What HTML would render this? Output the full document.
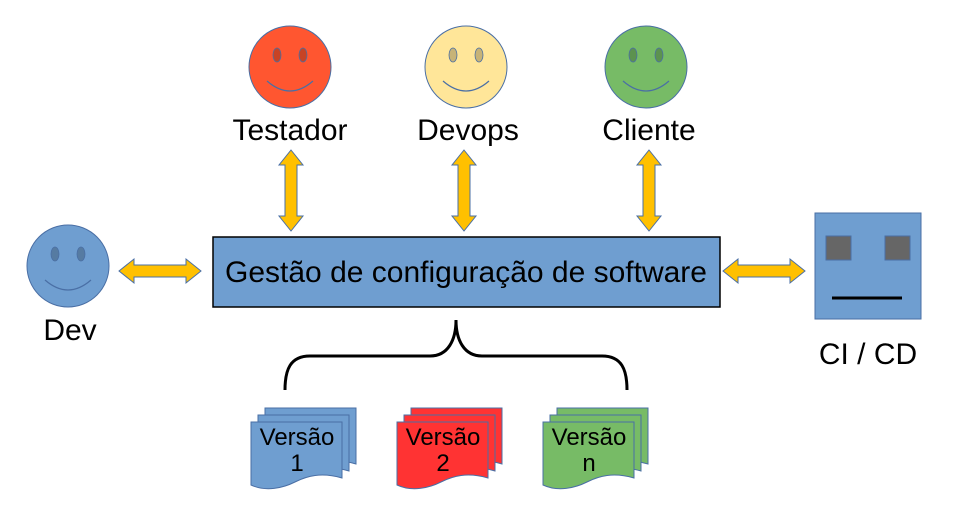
<!DOCTYPE html>
<html><head><meta charset="utf-8"><style>
html,body{margin:0;padding:0;background:#fff;}
svg{display:block;}
text{font-family:"Liberation Sans",sans-serif;fill:#000;}
</style></head><body>
<svg width="968" height="531" viewBox="0 0 968 531" xmlns="http://www.w3.org/2000/svg">
<defs>
<g id="face">
<circle cx="0" cy="0" r="41" stroke="#4a6fa5" stroke-width="1"/>
<ellipse cx="-13" cy="-12" rx="4" ry="7" fill="#000" fill-opacity="0.22" stroke="#4a6fa5" stroke-width="0.8"/>
<ellipse cx="13" cy="-12" rx="4" ry="7" fill="#000" fill-opacity="0.22" stroke="#4a6fa5" stroke-width="0.8"/>
<path d="M-23,14 Q0,34 23,14" fill="none" stroke="#4a6fa5" stroke-width="1.2"/>
</g>
<path id="harrow" d="M0,0 L15,-12 L15,-6 L67,-6 L67,-12 L82,0 L67,12 L67,6 L15,6 L15,12 Z" fill="#ffc000" stroke="#4a6fa5" stroke-width="1"/>
<path id="varrow" d="M0,0 L12,15 L6,15 L6,66 L12,66 L0,81 L-12,66 L-6,66 L-6,15 L-12,15 Z" fill="#ffc000" stroke="#4a6fa5" stroke-width="1"/>
<path id="doc" d="M0,0 H91 V56 C70,50 56,54 44,60 C32,66 15,70 0,63 Z" stroke="#4a6fa5" stroke-width="1"/>
</defs>

<use href="#face" x="290" y="67" fill="#ff5630"/>
<use href="#face" x="466" y="67" fill="#ffe699"/>
<use href="#face" x="646" y="67" fill="#77bb66"/>
<use href="#face" x="68" y="266" fill="#6f9ed0"/>

<text x="290" y="140" font-size="30" text-anchor="middle">Testador</text>
<text x="468" y="140" font-size="30" text-anchor="middle">Devops</text>
<text x="649" y="140" font-size="30" text-anchor="middle">Cliente</text>
<text x="70" y="340" font-size="30" text-anchor="middle">Dev</text>

<use href="#varrow" x="291" y="150"/>
<use href="#varrow" x="464" y="150"/>
<use href="#varrow" x="649" y="150"/>
<use href="#harrow" x="119" y="271"/>
<use href="#harrow" x="723" y="271"/>

<rect x="213" y="237" width="507" height="70" fill="#6f9ed0" stroke="#000" stroke-width="1.5"/>
<text x="466" y="282" font-size="30" text-anchor="middle">Gestão de configuração de software</text>

<rect x="815" y="213" width="106" height="106" fill="#6f9ed0" stroke="#4a6fa5" stroke-width="1"/>
<rect x="826" y="236" width="25" height="24" fill="#666" stroke="#4a6fa5" stroke-width="1"/>
<rect x="885" y="236" width="25" height="24" fill="#666" stroke="#4a6fa5" stroke-width="1"/>
<line x1="832" y1="298" x2="902" y2="298" stroke="#000" stroke-width="3"/>
<text x="868" y="364" font-size="30" text-anchor="middle">CI / CD</text>

<path d="M285,390 C285,370 290,356 310,356 L430,356 C448,356 456,340 456,320 C456,340 464,356 482,356 L602,356 C622,356 627,370 627,390" fill="none" stroke="#000" stroke-width="3"/>

<g fill="#6f9ed0">
<use href="#doc" x="265" y="408"/><use href="#doc" x="258" y="415"/><use href="#doc" x="251" y="422"/>
</g>
<g fill="#ff3333">
<use href="#doc" x="411" y="408"/><use href="#doc" x="404" y="415"/><use href="#doc" x="397" y="422"/>
</g>
<g fill="#77bb66">
<use href="#doc" x="557" y="408"/><use href="#doc" x="550" y="415"/><use href="#doc" x="543" y="422"/>
</g>
<text x="297" y="445" font-size="24" text-anchor="middle">Versão</text>
<text x="297" y="471" font-size="24" text-anchor="middle">1</text>
<text x="443" y="445" font-size="24" text-anchor="middle">Versão</text>
<text x="443" y="471" font-size="24" text-anchor="middle">2</text>
<text x="589" y="445" font-size="24" text-anchor="middle">Versão</text>
<text x="589" y="471" font-size="24" text-anchor="middle">n</text>
</svg>
</body></html>
